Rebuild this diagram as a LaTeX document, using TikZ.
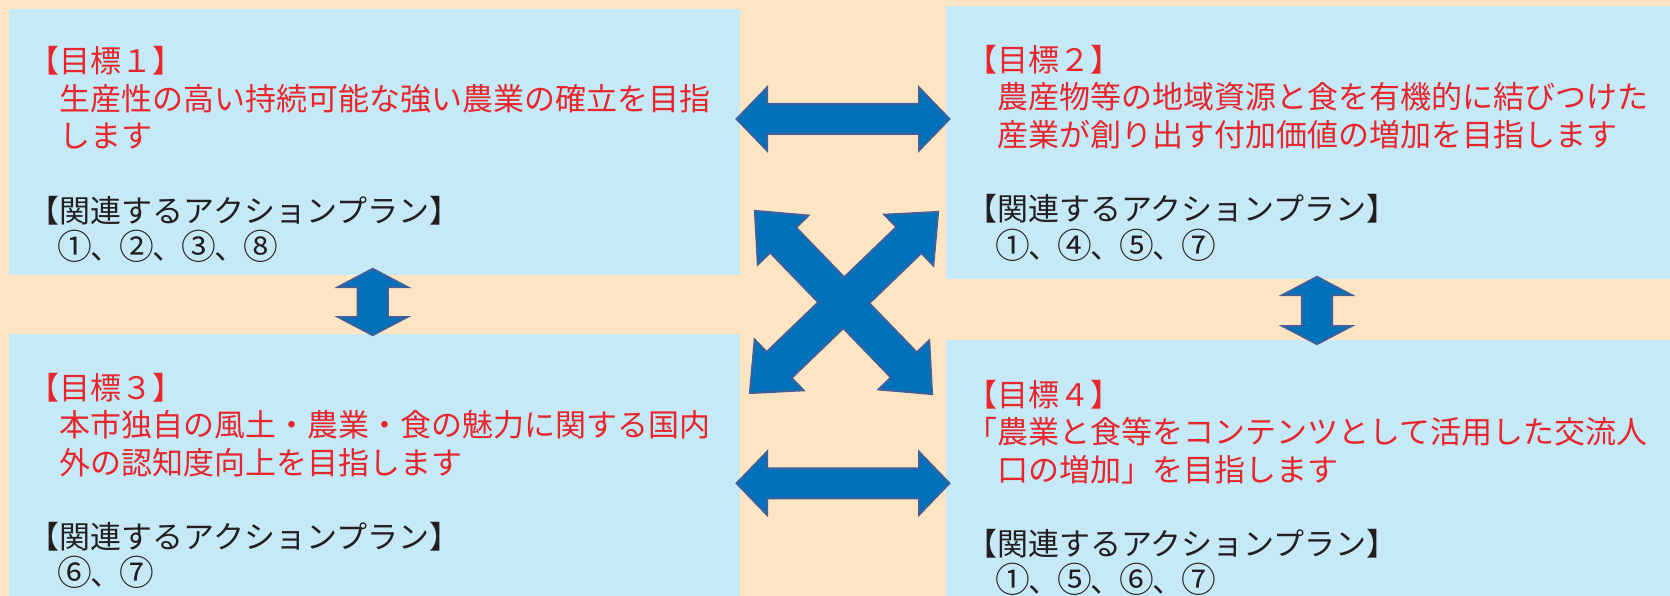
\documentclass[tikz,border=0pt]{standalone}
\usepackage{fontspec}
\newfontfamily\jp{Noto Sans CJK JP}
\usepackage{tikz}
\usetikzlibrary{calc}
\definecolor{bgpeach}{HTML}{FDE5C3}
\definecolor{boxblue}{HTML}{C6E9F8}
\definecolor{goalred}{HTML}{E8262B}
\definecolor{plainblack}{HTML}{231F20}
\definecolor{arrowblue}{HTML}{0072BC}
\definecolor{arrowedge}{HTML}{41609A}

% circled plan number, a bit larger than the font gives it
\newcommand{\cnum}[1]{\makebox[1em]{\scalebox{1.12}{#1}}}

% double block arrow: style, tip, tip, head length, head half width, shaft half width
\newcommand{\biarrow}[6]{%
  \path[#1] (#2)
    -- ($(#2)!#4!(#3)!#5!90:(#3)$)
    -- ($(#2)!#4!(#3)!#6!90:(#3)$)
    -- ($(#3)!#4!(#2)!#6!-90:(#2)$)
    -- ($(#3)!#4!(#2)!#5!-90:(#2)$)
    -- (#3)
    -- ($(#3)!#4!(#2)!#5!90:(#2)$)
    -- ($(#3)!#4!(#2)!#6!90:(#2)$)
    -- ($(#2)!#4!(#3)!#6!-90:(#3)$)
    -- ($(#2)!#4!(#3)!#5!-90:(#3)$)
    -- cycle;}

\begin{document}
\begin{tikzpicture}[x=1pt, y=-1pt,
  goalbox/.style={rectangle, fill=boxblue, anchor=north west, inner sep=0},
  goaltext/.style={anchor=north west, inner sep=0, align=left, text=goalred, font=\jp\fontsize{31}{37.3}\selectfont},
  arrowline/.style={draw=arrowedge, line width=4pt, line join=miter},
  arrowfill/.style={fill=arrowblue}]
\useasboundingbox (0,0) rectangle (1670,596);
\fill[bgpeach] (0,0) rectangle (1670,596);

% goal boxes
\node[goalbox, minimum width=731.5pt, minimum height=266.5pt] (g1) at (8.5,8.5) {};
\node[goalbox, minimum width=724pt, minimum height=272.8pt] (g2) at (946,5.7) {};
\node[goalbox, minimum width=731.5pt, minimum height=262.5pt] (g3) at (8.5,333.5) {};
\node[goalbox, minimum width=724pt, minimum height=256pt] (g4) at (946,340) {};

\node[goaltext] (t1) at ($(g1.north west)+(20,38)$) {【目標１】\\%
　生産性の高い持続可能な強い農業の確立を目指\\%
　します\\[37.3pt]%
\textcolor{plainblack}{【関連するアクションプラン】}\\%
\textcolor{plainblack}{　\cnum{①}、\cnum{②}、\cnum{③}、\cnum{⑧}}};
\node[goaltext] (t2) at ($(g2.north west)+(20,39.5)$) {【目標２】\\%
　農産物等の地域資源と食を有機的に結びつけた\\%
　産業が創り出す付加価値の増加を目指します\\[37.3pt]%
\textcolor{plainblack}{【関連するアクションプラン】}\\%
\textcolor{plainblack}{　\cnum{①}、\cnum{④}、\cnum{⑤}、\cnum{⑦}}};
\node[goaltext] (t3) at ($(g3.north west)+(20,39.5)$) {【目標３】\\%
　本市独自の風土・農業・食の魅力に関する国内\\%
　外の認知度向上を目指します\\[37.3pt]%
\textcolor{plainblack}{【関連するアクションプラン】}\\%
\textcolor{plainblack}{　\cnum{⑥}、\cnum{⑦}}};
\node[goaltext] (t4) at ($(g4.north west)+(20,40)$) {【目標４】\\%
「農業と食等をコンテンツとして活用した交流人\\%
　口の増加」を目指します\\[37.3pt]%
\textcolor{plainblack}{【関連するアクションプラン】}\\%
\textcolor{plainblack}{　\cnum{①}、\cnum{⑤}、\cnum{⑥}、\cnum{⑦}}};

% arrow ends
\coordinate (h1a) at (738,119);
\coordinate (h1b) at (948,119);
\coordinate (h2a) at (738,483.3);
\coordinate (h2b) at (948,483.3);
\coordinate (v1a) at (372.7,270);
\coordinate (v1b) at (372.7,334);
\coordinate (v2a) at (1317,278);
\coordinate (v2b) at (1317,343);
\coordinate (x1a) at (756,212);
\coordinate (x1b) at (931,393);
\coordinate (x2a) at (937,213);
\coordinate (x2b) at (751,392);

\foreach \st in {arrowline,arrowfill}{
  \biarrow{\st}{h1a}{h1b}{28pt}{29pt}{14pt}
  \biarrow{\st}{h2a}{h2b}{28pt}{29pt}{14pt}
  \biarrow{\st}{v1a}{v1b}{16pt}{30.5pt}{14.2pt}
  \biarrow{\st}{v2a}{v2b}{16pt}{30.5pt}{14.2pt}
  \biarrow{\st}{x1a}{x1b}{38pt}{33pt}{17pt}
  \biarrow{\st}{x2a}{x2b}{38pt}{33pt}{17pt}
}
\end{tikzpicture}
\end{document}
